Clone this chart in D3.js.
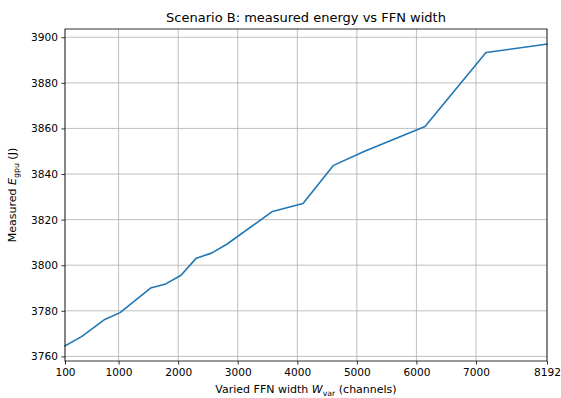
<!DOCTYPE html>
<html>
<head>
<meta charset="utf-8">
<script src="https://cdn.jsdelivr.net/npm/d3@7"></script>
<style>
  body { margin: 0; background: #fff; }
  svg { font-family: 'DejaVu Sans', sans-serif; }
</style>
</head>
<body>
<svg id="chart" width="561" height="398"></svg>
<script>
// FFN width (channels) and measured GPU energy (J)
const widths = [100, 384, 768, 1024, 1536, 1792, 2048, 2304, 2560, 2816, 3584, 4096, 4608, 5120, 6144, 7168, 8192]
const energies = [3764.6, 3768.8, 3776.2, 3779.2, 3790.0, 3791.8, 3795.6, 3803.1, 3805.3, 3809.2, 3823.6, 3827.1, 3843.8, 3849.9, 3860.8, 3893.3, 3897.0]
const xTicks = [100, 1000, 2000, 3000, 4000, 5000, 6000, 7000, 8192]
const yTicks = [3760, 3780, 3800, 3820, 3840, 3860, 3880, 3900]

const svg = d3.select('#chart')
const margin = { left: 65, right: 14, top: 29, bottom: 37 }
const width = 561
const height = 398

const x = d3.scaleLinear().domain([100, 8192]).range([margin.left, width - margin.right])
const yMin = d3.min(energies), yMax = d3.max(energies)
const pad = (yMax - yMin) * 0.05
const y = d3.scaleLinear().domain([yMin - pad, yMax + pad]).range([height - margin.bottom, margin.top])

const grid = svg.append('g').attr('stroke', '#b0b0b0').attr('stroke-width', 0.8)
grid.selectAll('line.vx')
  .data(xTicks)
  .join('line')
  .attr('x1', (d) => x(d)).attr('x2', (d) => x(d))
  .attr('y1', margin.top).attr('y2', height - margin.bottom)
grid.selectAll('line.hy')
  .data(yTicks)
  .join('line')
  .attr('x1', margin.left).attr('x2', width - margin.right)
  .attr('y1', (d) => y(d)).attr('y2', (d) => y(d))

const line = d3.line().x((d) => x(d[0])).y((d) => y(d[1]))
svg.append('path')
  .datum(widths.map((w, i) => [w, energies[i]]))
  .attr('fill', 'none')
  .attr('stroke', '#1f77b4')
  .attr('stroke-width', 1.6)
  .attr('stroke-linejoin', 'round')
  .attr('stroke-linecap', 'square')
  .attr('d', line)

// axes
const xAxis = svg.append('g')
  .attr('transform', `translate(0, ${height - margin.bottom})`)
  .call(d3.axisBottom(x).tickValues(xTicks).tickFormat(d3.format('d')).tickSizeOuter(0).tickSize(3.6).tickPadding(3.5))
const yAxis = svg.append('g')
  .attr('transform', `translate(${margin.left}, 0)`)
  .call(d3.axisLeft(y).tickValues(yTicks).tickFormat(d3.format('d')).tickSizeOuter(0).tickSize(3.6).tickPadding(3.5))

for (const ax of [xAxis, yAxis]) {
  ax.select('.domain').remove()
  ax.selectAll('.tick line').attr('stroke', '#000').attr('stroke-width', 0.8)
  ax.selectAll('.tick text')
    .attr('fill', '#000')
    .style('font-size', '10.6px')
    .style('font-family', "'DejaVu Sans', sans-serif")
}

// frame
svg.append('rect')
  .attr('x', margin.left).attr('y', margin.top)
  .attr('width', width - margin.left - margin.right)
  .attr('height', height - margin.top - margin.bottom)
  .attr('fill', 'none')
  .attr('stroke', '#000')
  .attr('stroke-width', 0.8)

// title
svg.append('text')
  .attr('x', (margin.left + width - margin.right) / 2)
  .attr('y', 22)
  .attr('text-anchor', 'middle')
  .style('font-size', '13px')
  .text('Scenario B: measured energy vs FFN width')

// x label
const xl = svg.append('text')
  .attr('x', (margin.left + width - margin.right) / 2)
  .attr('y', 393)
  .attr('text-anchor', 'middle')
  .style('font-size', '11px')
xl.append('tspan').text('Varied FFN width ')
xl.append('tspan').style('font-style', 'italic').text('W')
xl.append('tspan').attr('dy', 2.5).style('font-size', '7.8px').text('var')
xl.append('tspan').attr('dy', -2.5).text(' (channels)')

// y label
const yl = svg.append('text')
  .attr('transform', `translate(16, ${(margin.top + height - margin.bottom) / 2}) rotate(-90)`)
  .attr('text-anchor', 'middle')
  .style('font-size', '11px')
yl.append('tspan').text('Measured ')
yl.append('tspan').style('font-style', 'italic').text('E')
yl.append('tspan').attr('dy', 2.5).style('font-size', '7.8px').text('gpu')
yl.append('tspan').attr('dy', -2.5).text(' (J)')
</script>
</body>
</html>
